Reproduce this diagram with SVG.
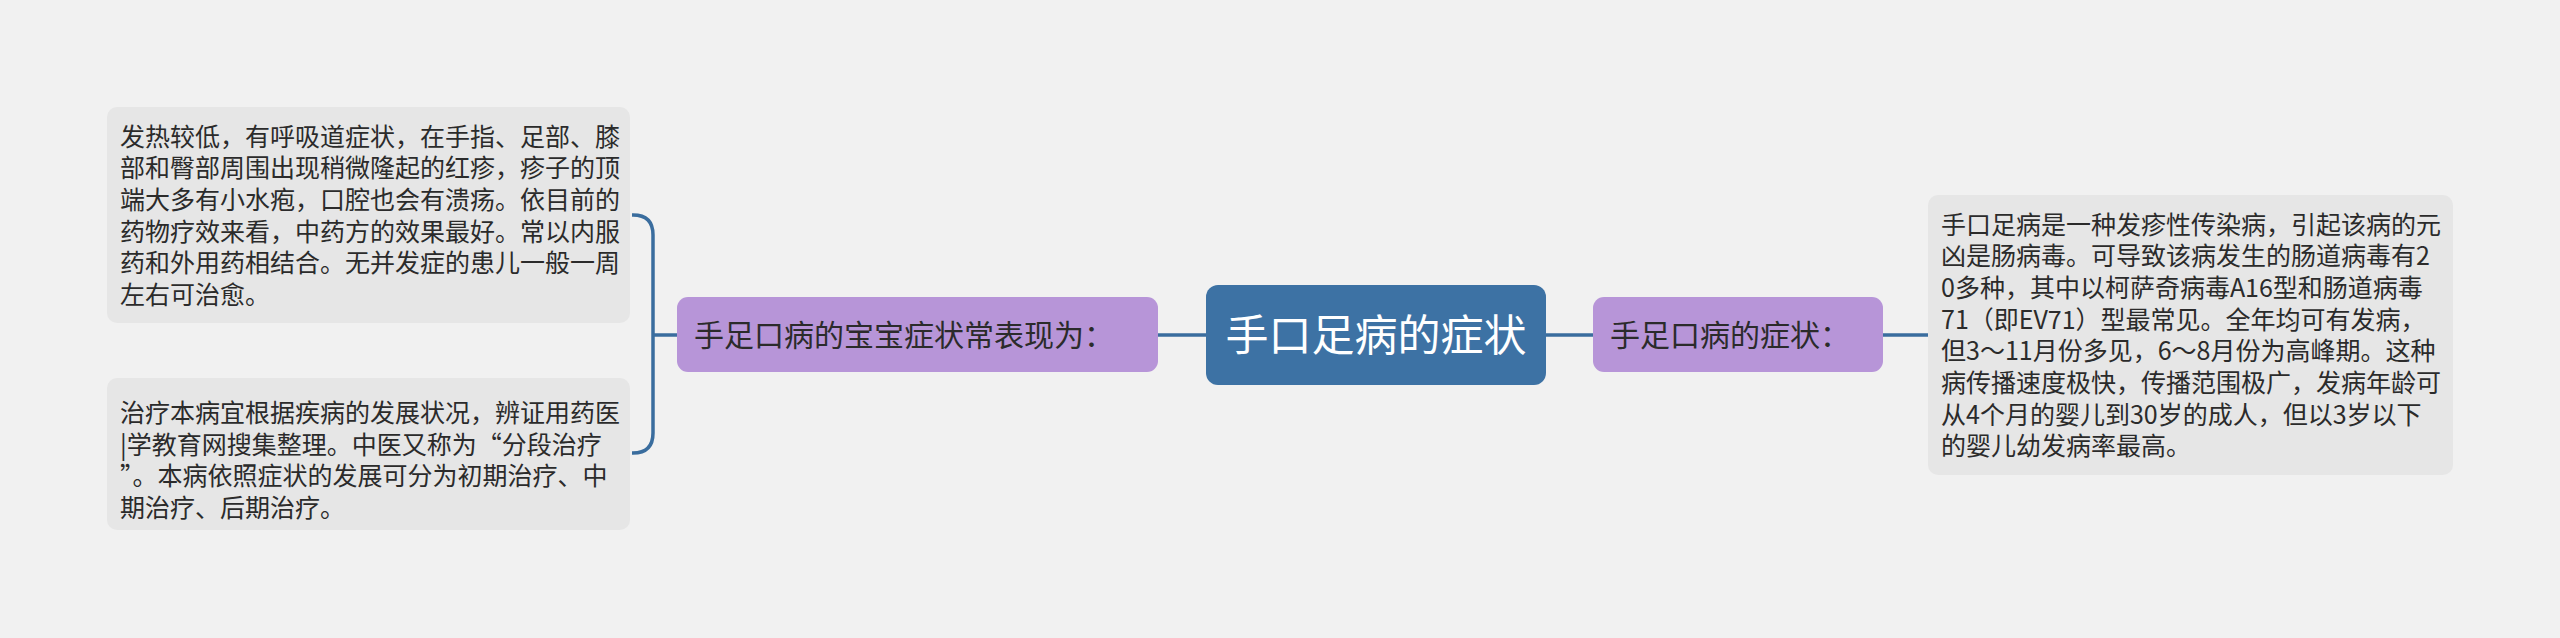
<svg xmlns="http://www.w3.org/2000/svg" width="2560" height="638" viewBox="0 0 2560 638">
<style>
.bg{fill:#f1f1f1}
.leaf{fill:#e6e6e6}
.sub{fill:#b795d8}
.root{fill:#3d72a4}
.t{font-family:"Noto Sans CJK SC","Noto Sans",sans-serif;fill:#2b2b2b}
.lt{font-size:25px}
.st{font-size:30px}
.rt{font-size:43px;fill:#ffffff}
.conn{fill:none;stroke:#3a6d9e;stroke-width:3.5}
</style>
<rect class="bg" x="0" y="0" width="2560" height="638"/>
<g id="connectors">
<path class="conn" d="M632 215 H633 Q653 215 653 235 V433 Q653 453 633 453 H632"/>
<path class="conn" d="M653 335 H677"/>
<path class="conn" d="M1158 335 H1206"/>
<path class="conn" d="M1546 335 H1593"/>
<path class="conn" d="M1883 335 H1928"/>
</g>
<g id="root">
<rect class="root" x="1206" y="285" width="340" height="100" rx="12"/>
<text class="t rt" x="1376" y="351" text-anchor="middle">手口足病的症状</text>
</g>
<g id="sub-left">
<rect class="sub" x="677" y="297" width="481" height="75" rx="11"/>
<text class="t st" x="694" y="346">手足口病的宝宝症状常表现为：</text>
</g>
<g id="sub-right">
<rect class="sub" x="1593" y="297" width="290" height="75" rx="11"/>
<text class="t st" x="1610" y="346">手足口病的症状：</text>
</g>
<g id="leaf-left-1">
<rect class="leaf" x="107" y="107" width="523" height="216" rx="10"/>
<text class="t lt" x="120">
<tspan x="120" y="145.5">发热较低，有呼吸道症状，在手指、足部、膝</tspan>
<tspan x="120" y="177.2">部和臀部周围出现稍微隆起的红疹，疹子的顶</tspan>
<tspan x="120" y="208.8">端大多有小水疱，口腔也会有溃疡。依目前的</tspan>
<tspan x="120" y="240.5">药物疗效来看，中药方的效果最好。常以内服</tspan>
<tspan x="120" y="272.2">药和外用药相结合。无并发症的患儿一般一周</tspan>
<tspan x="120" y="303.8">左右可治愈。</tspan>
</text>
</g>
<g id="leaf-left-2">
<rect class="leaf" x="107" y="378" width="523" height="152" rx="10"/>
<text class="t lt">
<tspan x="120" y="422">治疗本病宜根据疾病的发展状况，辨证用药医</tspan>
<tspan x="120" y="453.7">|学教育网搜集整理。中医又称为“分段治疗</tspan>
<tspan x="120" y="485.3">”。本病依照症状的发展可分为初期治疗、中</tspan>
<tspan x="120" y="517">期治疗、后期治疗。</tspan>
</text>
</g>
<g id="leaf-right">
<rect class="leaf" x="1928" y="195" width="525" height="280" rx="10"/>
<text class="t lt">
<tspan x="1941" y="233.5">手口足病是一种发疹性传染病，引起该病的元</tspan>
<tspan x="1941" y="265.2">凶是肠病毒。可导致该病发生的肠道病毒有2</tspan>
<tspan x="1941" y="296.8">0多种，其中以柯萨奇病毒A16型和肠道病毒</tspan>
<tspan x="1941" y="328.5">71（即EV71）型最常见。全年均可有发病，</tspan>
<tspan x="1941" y="360.2">但3～11月份多见，6～8月份为高峰期。这种</tspan>
<tspan x="1941" y="391.8">病传播速度极快，传播范围极广，发病年龄可</tspan>
<tspan x="1941" y="423.5">从4个月的婴儿到30岁的成人，但以3岁以下</tspan>
<tspan x="1941" y="455.2">的婴儿幼发病率最高。</tspan>
</text>
</g>
</svg>
